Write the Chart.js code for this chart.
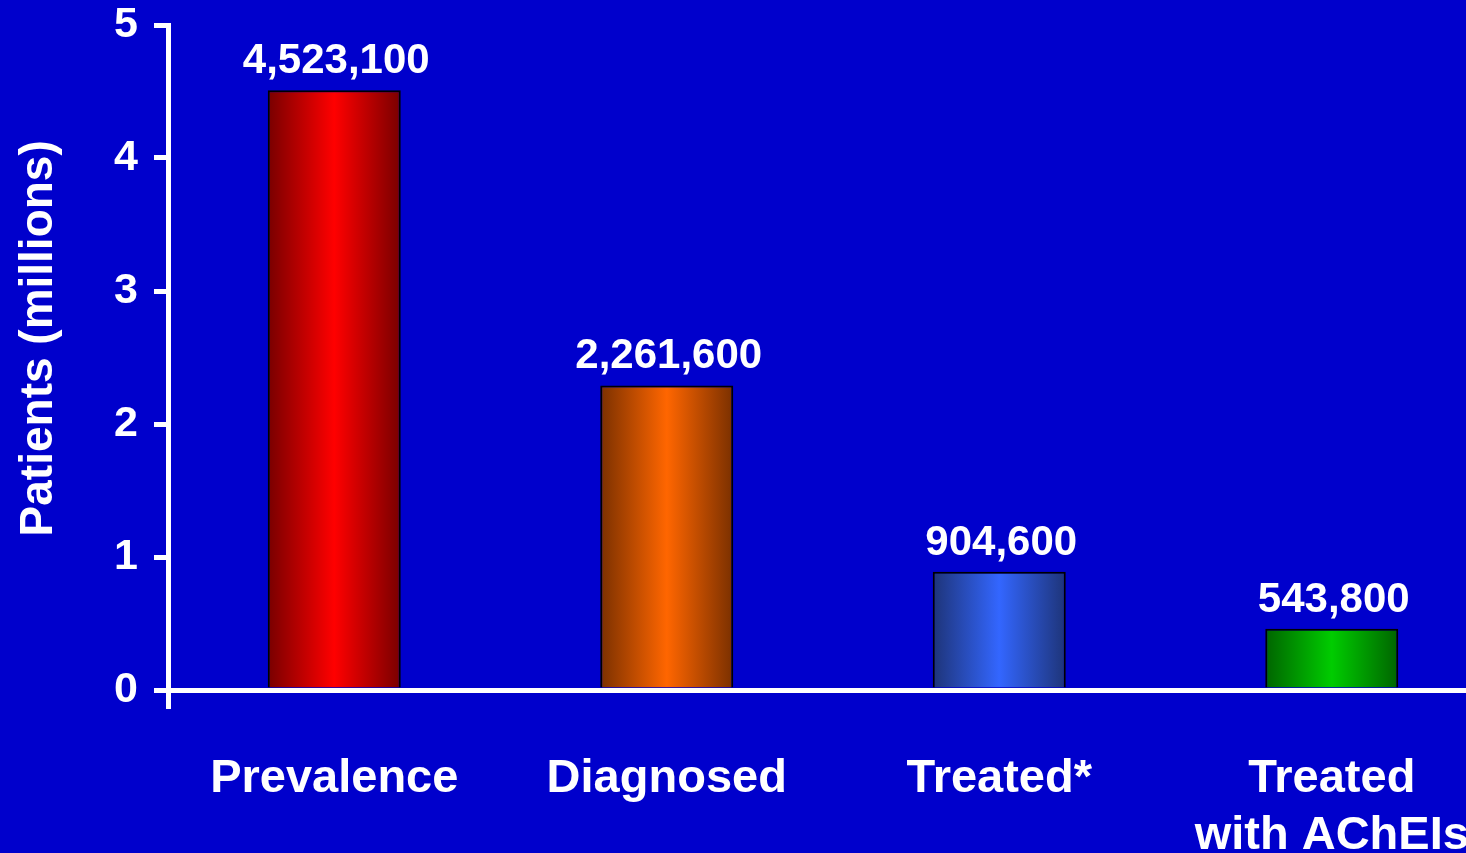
<!DOCTYPE html>
<html>
<head>
<meta charset="utf-8">
<script src="https://cdn.jsdelivr.net/npm/chart.js@4/dist/chart.umd.min.js"></script>
<style>
  html, body { margin: 0; padding: 0; background: #0000CC; overflow: hidden; width: 1466px; height: 853px; }
  #wrap { position: absolute; left: 0; top: 0; width: 1498px; height: 853px; }
  canvas { display: block; }
</style>
</head>
<body>
<div id="wrap"><canvas id="c" width="1498" height="853"></canvas></div>
<script>
// ---- data ----
const categories = ['Prevalence', 'Diagnosed', 'Treated*', ['Treated', 'with AChEIs']];
const patientsMillions = [4.51, 2.29, 0.89, 0.46];   // bar heights
const valueLabels = ['4,523,100', '2,261,600', '904,600', '543,800'];
const yTicks = [0, 1, 2, 3, 4, 5];
const edgeColors = ['#780000', '#7A3000', '#1E3478', '#006400'];
const centerColors = ['#FF0000', '#FF6600', '#3366FF', '#00CC00'];

const FONT = '"Liberation Sans", Arial, sans-serif';

const barGradient = (c) => {
  const chart = c.chart;
  const ca = chart.chartArea;
  const i = c.dataIndex;
  if (!ca || !chart.scales.x) return centerColors[i];
  const x = chart.scales.x.getPixelForValue(i);
  const half = (ca.right - ca.left) / categories.length * 0.4 / 2;
  const g = chart.ctx.createLinearGradient(x - half, 0, x + half, 0);
  g.addColorStop(0, edgeColors[i]);
  g.addColorStop(0.5, centerColors[i]);
  g.addColorStop(1, edgeColors[i]);
  return g;
};

const valueLabelPlugin = {
  id: 'valueLabels',
  afterDatasetsDraw(chart) {
    const ctx = chart.ctx;
    const meta = chart.getDatasetMeta(0);
    ctx.save();
    ctx.font = 'bold 42px ' + FONT;
    ctx.fillStyle = '#FFFFFF';
    ctx.textAlign = 'center';
    ctx.textBaseline = 'alphabetic';
    meta.data.forEach((el, i) => {
      ctx.fillText(valueLabels[i], el.x + 2, el.y - 17);
    });
    ctx.restore();
  }
};

new Chart(document.getElementById('c'), {
  type: 'bar',
  data: {
    labels: categories,
    datasets: [{
      data: patientsMillions,
      backgroundColor: barGradient,
      borderColor: '#000000',
      borderWidth: 2,
      barPercentage: 0.4,
      categoryPercentage: 1.0
    }]
  },
  options: {
    responsive: false,
    animation: false,
    devicePixelRatio: 1,
    layout: { padding: { left: 10, top: 25, right: 0, bottom: 0 } },
    plugins: { legend: { display: false }, tooltip: { enabled: false } },
    scales: {
      x: {
        z: 1,
        offset: true,
        grid: {
          display: true,
          offset: true,
          drawOnChartArea: false,
          drawTicks: true,
          tickLength: 19,
          lineWidth: 5,
          color: (c) => (c.index === 0 ? '#FFFFFF' : 'rgba(0,0,0,0)')
        },
        border: { display: true, color: '#FFFFFF', width: 5 },
        ticks: {
          color: '#FFFFFF',
          font: { family: FONT, size: 47, weight: 'bold', lineHeight: 1.2 },
          padding: 42,
          maxRotation: 0,
          autoSkip: false
        },
        afterFit: (s) => { s.height = 853 - 690; s.paddingLeft = 0; s.paddingRight = 0; }
      },
      y: {
        z: 1,
        min: 0,
        max: 5,
        afterBuildTicks: (s) => { s.ticks = yTicks.map(v => ({ value: v })); },
        grid: {
          display: true,
          drawOnChartArea: false,
          drawTicks: true,
          tickLength: 14,
          lineWidth: 5,
          color: '#FFFFFF'
        },
        border: { display: true, color: '#FFFFFF', width: 5 },
        ticks: {
          color: '#FFFFFF',
          font: { family: FONT, size: 43, weight: 'bold' },
          padding: 16
        },
        title: {
          display: true,
          text: '   Patients (millions)',
          color: '#FFFFFF',
          font: { family: FONT, size: 46, weight: 'bold', lineHeight: 1.2 },
          padding: { top: 2, bottom: 0 }
        },
        afterFit: (s) => { s.width = 168 - 10; s.paddingTop = 0; s.paddingBottom = 0; }
      }
    }
  },
  plugins: [valueLabelPlugin]
});
</script>
</body>
</html>
